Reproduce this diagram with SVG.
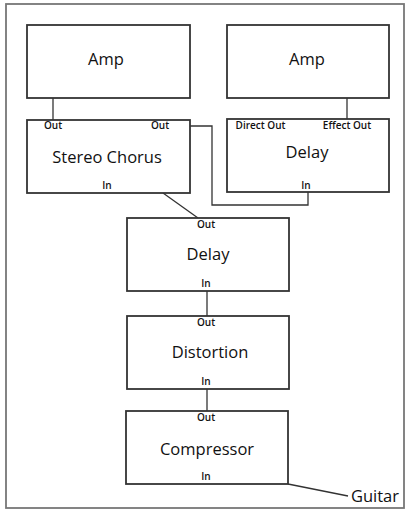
<svg xmlns="http://www.w3.org/2000/svg" width="406" height="512" viewBox="0 0 406 512">
  <style>
    .frame { fill: none; stroke: #777777; stroke-width: 1.8; }
    .box { fill: #ffffff; stroke: #333333; stroke-width: 1.8; }
    .wire { fill: none; stroke: #333333; stroke-width: 1.3; }
    .title { font-family: "Open Sans", "DejaVu Sans", sans-serif; font-size: 16.5px; font-weight: 500; fill: #111111; text-anchor: middle; }
    .port { font-family: "Open Sans", "DejaVu Sans", sans-serif; font-size: 10px; font-weight: 600; fill: #111111; text-anchor: middle; }
  </style>
  <rect width="406" height="512" fill="#ffffff"/>
  <rect class="frame" x="6" y="4" width="398" height="504"/>

  <g id="connectors">
    <line class="wire" x1="53" y1="98" x2="53" y2="120"/>
    <line class="wire" x1="347" y1="98" x2="347" y2="119"/>
    <polyline class="wire" points="190,126 212,126 212,205 308,205 308,192"/>
    <line class="wire" x1="163" y1="193" x2="198" y2="218"/>
    <line class="wire" x1="207" y1="291" x2="207" y2="316"/>
    <line class="wire" x1="207" y1="389" x2="207" y2="411"/>
    <line class="wire" x1="288" y1="484" x2="348" y2="496"/>
  </g>

  <g id="amp-left">
    <rect class="box" x="27" y="25" width="163" height="73"/>
    <text class="title" x="106" y="65">Amp</text>
  </g>

  <g id="amp-right">
    <rect class="box" x="227" y="25" width="162" height="73"/>
    <text class="title" x="307" y="65">Amp</text>
  </g>

  <g id="stereo-chorus">
    <rect class="box" x="27" y="120" width="163" height="73"/>
    <text class="port" x="53" y="129">Out</text>
    <text class="port" x="160" y="129">Out</text>
    <text class="title" x="107" y="163">Stereo Chorus</text>
    <text class="port" x="107" y="189">In</text>
  </g>

  <g id="delay-stereo">
    <rect class="box" x="227" y="119" width="162" height="73"/>
    <text class="port" x="260.5" y="129">Direct Out</text>
    <text class="port" x="347" y="129">Effect Out</text>
    <text class="title" x="307" y="158">Delay</text>
    <text class="port" x="306" y="189">In</text>
  </g>

  <g id="delay">
    <rect class="box" x="127" y="218" width="162" height="73"/>
    <text class="port" x="206" y="228">Out</text>
    <text class="title" x="208" y="260">Delay</text>
    <text class="port" x="206" y="287">In</text>
  </g>

  <g id="distortion">
    <rect class="box" x="127" y="316" width="162" height="73"/>
    <text class="port" x="206" y="326">Out</text>
    <text class="title" x="210" y="358">Distortion</text>
    <text class="port" x="206" y="385">In</text>
  </g>

  <g id="compressor">
    <rect class="box" x="126" y="411" width="162" height="73"/>
    <text class="port" x="206" y="421">Out</text>
    <text class="title" x="207" y="455">Compressor</text>
    <text class="port" x="206" y="480">In</text>
  </g>

  <g id="guitar">
    <text class="title" x="375" y="502">Guitar</text>
  </g>
</svg>
